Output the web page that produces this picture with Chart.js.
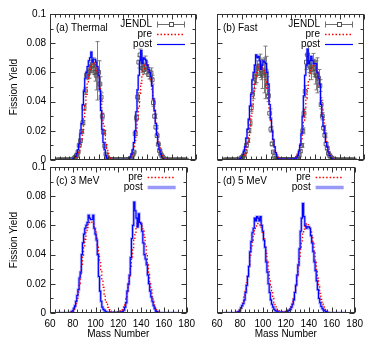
<!DOCTYPE html>
<html><head><meta charset="utf-8">
<script src="https://cdn.jsdelivr.net/npm/chart.js@4.4.0/dist/chart.umd.min.js"></script>
<style>
html,body{margin:0;padding:0;background:#fff;width:375px;height:350px;overflow:hidden}
canvas{position:absolute}
</style></head><body>
<canvas id="pa" width="200" height="170" style="left:0;top:0"></canvas>
<canvas id="pb" width="201" height="170" style="left:167px;top:0"></canvas>
<canvas id="pc" width="200" height="197" style="left:0;top:153px"></canvas>
<canvas id="pd" width="201" height="197" style="left:167px;top:153px"></canvas>
<script>
// ---------------- data ----------------
const massNumbers = [
 66,67,68,69,70,71,72,73,74,75,
 76,77,78,79,80,81,82,83,84,85,
 86,87,88,89,90,91,92,93,94,95,
 96,97,98,99,100,101,102,103,104,105,
 106,107,108,109,110,111,112,113,114,115,
 116,117,118,119,120,121,122,123,124,125,
 126,127,128,129,130,131,132,133,134,135,
 136,137,138,139,140,141,142,143,144,145,
 146,147,148,149,150,151,152,153,154,155,
 156,157,158,159,160,161,162,163,164,165,
 166,167,168,169,170,171,172];
const xTickLabels = ['60','80','100','120','140','160','180'];
const yTickLabels = ['0','0.02','0.04','0.06','0.08','0.1'];
const panelTitles = ['(a) Thermal','(b) Fast','(c) 3 MeV','(d) 5 MeV'];
const seriesNames = ['JENDL','pre','post'];
const xAxisTitle = 'Mass Number';
const yAxisTitle = 'Fission Yield';

// (a) Thermal
const jendlThermal = [
 0,0,0,0,0,0,0,0,0,0,
 0.0000,0.0001,0.0002,0.0005,0.0013,0.0020,0.0033,0.0054,0.0100,0.0132,
 0.0196,0.0256,0.0360,0.0473,0.0580,0.0590,0.0600,0.0635,0.0643,0.0650,
 0.0625,0.0600,0.0580,0.0611,0.0600,0.0520,0.0430,0.0300,0.0190,0.0096,
 0.0040,0.0015,0.0006,0.0003,0.0003,0.0002,0.0001,0.0001,0.0001,0.0001,
 0.0001,0.0001,0.0001,0.0001,0.0001,0.0001,0.0001,0.0002,0.0003,0.0003,
 0.0006,0.0013,0.0035,0.0054,0.0180,0.0289,0.0431,0.0670,0.0720,0.0654,
 0.0630,0.0619,0.0677,0.0641,0.0622,0.0585,0.0586,0.0596,0.0550,0.0393,
 0.0300,0.0225,0.0167,0.0108,0.0065,0.0042,0.0027,0.0016,0.0007,0.0003,
 0.0001,0.0001,0,0,0,0,0,0,0,0,
 0,0,0,0,0,0,0];
const jendlThermalErr = [
 0,0,0,0,0,0,0,0,0,0,
 0,0,0,0,0.0001,0.0002,0.0003,0.0004,0.0008,0.0010,
 0.0012,0.0015,0.0020,0.0025,0.0030,0.0030,0.0040,0.0035,0.0040,0.0050,
 0.0040,0.0060,0.0100,0.0200,0.0080,0.0050,0.0030,0.0020,0.0012,0.0008,
 0.0004,0.0002,0,0,0,0,0,0,0,0,
 0,0,0,0,0,0,0,0,0,0,
 0.0001,0.0002,0.0004,0.0006,0.0012,0.0020,0.0030,0.0040,0.0040,0.0035,
 0.0030,0.0030,0.0035,0.0030,0.0030,0.0030,0.0030,0.0035,0.0030,0.0025,
 0.0015,0.0012,0.0010,0.0006,0.0004,0.0002,0.0001,0,0,0,
 0,0,0,0,0,0,0,0,0,0,
 0,0,0,0,0,0,0];
const preThermal = [
 0,0,0,0,0,0,0,0,0,0,
 0.0000,0.0001,0.0002,0.0003,0.0005,0.0010,0.0020,0.0035,0.0060,0.0095,
 0.0145,0.0210,0.0290,0.0370,0.0450,0.0520,0.0580,0.0620,0.0645,0.0660,
 0.0665,0.0660,0.0640,0.0610,0.0560,0.0490,0.0410,0.0330,0.0250,0.0180,
 0.0120,0.0075,0.0045,0.0025,0.0013,0.0007,0.0004,0.0002,0.0002,0.0002,
 0.0002,0.0002,0.0002,0.0002,0.0002,0.0002,0.0002,0.0002,0.0004,0.0008,
 0.0015,0.0028,0.0050,0.0085,0.0135,0.0200,0.0280,0.0365,0.0450,0.0525,
 0.0585,0.0625,0.0650,0.0660,0.0655,0.0635,0.0600,0.0550,0.0485,0.0410,
 0.0335,0.0260,0.0190,0.0130,0.0085,0.0052,0.0030,0.0016,0.0008,0.0004,
 0.0002,0.0001,0,0,0,0,0,0,0,0,
 0,0,0,0,0,0,0];
const postThermal = [
 0,0,0,0,0,0,0,0,0,0,
 0.0000,0.0001,0.0003,0.0008,0.0015,0.0025,0.0045,0.0070,0.0110,0.0180,
 0.0250,0.0380,0.0470,0.0560,0.0600,0.0640,0.0680,0.0700,0.0740,0.0670,
 0.0690,0.0690,0.0670,0.0640,0.0580,0.0480,0.0340,0.0210,0.0120,0.0070,
 0.0030,0.0012,0.0005,0.0003,0.0002,0.0002,0.0002,0.0002,0.0002,0.0002,
 0.0002,0.0002,0.0002,0.0002,0.0002,0.0002,0.0002,0.0003,0.0005,0.0010,
 0.0020,0.0040,0.0070,0.0120,0.0200,0.0330,0.0480,0.0580,0.0680,0.0750,
 0.0660,0.0700,0.0690,0.0680,0.0650,0.0620,0.0600,0.0570,0.0510,0.0420,
 0.0340,0.0250,0.0170,0.0110,0.0070,0.0040,0.0020,0.0010,0.0005,0.0002,
 0.0001,0,0,0,0,0,0,0,0,0,
 0,0,0,0,0,0,0];

// (b) Fast
const jendlFast = [
 0,0,0,0,0,0,0,0,0,0,
 0.0000,0.0001,0.0003,0.0007,0.0015,0.0022,0.0035,0.0058,0.0100,0.0134,
 0.0202,0.0255,0.0358,0.0450,0.0530,0.0570,0.0590,0.0630,0.0640,0.0645,
 0.0620,0.0590,0.0580,0.0600,0.0610,0.0510,0.0440,0.0320,0.0210,0.0110,
 0.0055,0.0025,0.0010,0.0006,0.0004,0.0003,0.0003,0.0003,0.0003,0.0003,
 0.0003,0.0003,0.0003,0.0003,0.0003,0.0003,0.0003,0.0004,0.0004,0.0005,
 0.0010,0.0030,0.0060,0.0100,0.0200,0.0320,0.0470,0.0670,0.0720,0.0650,
 0.0640,0.0620,0.0670,0.0630,0.0600,0.0580,0.0580,0.0560,0.0510,0.0380,
 0.0300,0.0220,0.0170,0.0110,0.0080,0.0045,0.0030,0.0018,0.0010,0.0005,
 0.0003,0.0001,0,0,0,0,0,0,0,0,
 0,0,0,0,0,0,0];
const jendlFastErr = [
 0,0,0,0,0,0,0,0,0,0,
 0,0,0,0,0.0002,0.0003,0.0004,0.0006,0.0010,0.0012,
 0.0015,0.0020,0.0025,0.0030,0.0040,0.0050,0.0060,0.0050,0.0060,0.0080,
 0.0070,0.0100,0.0120,0.0180,0.0100,0.0060,0.0040,0.0030,0.0020,0.0012,
 0.0006,0.0003,0.0002,0.0001,0,0,0,0,0,0,
 0,0,0,0,0,0,0,0,0,0,
 0.0002,0.0004,0.0008,0.0012,0.0020,0.0030,0.0040,0.0050,0.0060,0.0050,
 0.0050,0.0070,0.0060,0.0060,0.0080,0.0100,0.0120,0.0060,0.0040,0.0030,
 0.0025,0.0018,0.0015,0.0010,0.0008,0.0005,0.0003,0.0002,0.0001,0,
 0,0,0,0,0,0,0,0,0,0,
 0,0,0,0,0,0,0];
const preFast = [
 0,0,0,0,0,0,0,0,0,0,
 0.0000,0.0001,0.0002,0.0004,0.0008,0.0015,0.0027,0.0045,0.0072,0.0110,
 0.0160,0.0225,0.0300,0.0380,0.0455,0.0520,0.0575,0.0615,0.0640,0.0650,
 0.0652,0.0645,0.0625,0.0595,0.0550,0.0490,0.0420,0.0345,0.0270,0.0200,
 0.0140,0.0095,0.0060,0.0035,0.0020,0.0012,0.0008,0.0006,0.0006,0.0006,
 0.0006,0.0006,0.0006,0.0006,0.0006,0.0006,0.0007,0.0010,0.0015,0.0025,
 0.0040,0.0062,0.0095,0.0140,0.0200,0.0270,0.0345,0.0420,0.0490,0.0550,
 0.0595,0.0625,0.0645,0.0652,0.0648,0.0630,0.0600,0.0555,0.0495,0.0425,
 0.0350,0.0275,0.0205,0.0145,0.0098,0.0063,0.0038,0.0022,0.0012,0.0006,
 0.0003,0.0001,0,0,0,0,0,0,0,0,
 0,0,0,0,0,0,0];
const postFast = [
 0,0,0,0,0,0,0,0,0,0,
 0.0000,0.0002,0.0005,0.0010,0.0020,0.0035,0.0060,0.0090,0.0150,0.0210,
 0.0280,0.0370,0.0450,0.0550,0.0600,0.0650,0.0720,0.0700,0.0710,0.0680,
 0.0620,0.0650,0.0680,0.0670,0.0660,0.0600,0.0520,0.0380,0.0280,0.0200,
 0.0140,0.0090,0.0050,0.0020,0.0010,0.0007,0.0007,0.0007,0.0007,0.0007,
 0.0007,0.0007,0.0007,0.0007,0.0007,0.0007,0.0007,0.0007,0.0010,0.0015,
 0.0030,0.0060,0.0100,0.0180,0.0300,0.0440,0.0580,0.0650,0.0760,0.0660,
 0.0680,0.0710,0.0680,0.0660,0.0660,0.0660,0.0600,0.0560,0.0520,0.0380,
 0.0300,0.0230,0.0180,0.0120,0.0090,0.0055,0.0030,0.0015,0.0008,0.0004,
 0.0002,0,0,0,0,0,0,0,0,0,
 0,0,0,0,0,0,0];

// (c) 3 MeV
const pre3MeV = [
 0,0,0,0,0,0,0,0,0,0,
 0.0001,0.0002,0.0004,0.0008,0.0014,0.0024,0.0040,0.0065,0.0100,0.0145,
 0.0200,0.0260,0.0325,0.0390,0.0450,0.0505,0.0550,0.0585,0.0608,0.0620,
 0.0625,0.0622,0.0610,0.0588,0.0555,0.0512,0.0460,0.0405,0.0345,0.0285,
 0.0228,0.0175,0.0128,0.0090,0.0060,0.0038,0.0023,0.0014,0.0009,0.0007,
 0.0007,0.0007,0.0007,0.0007,0.0008,0.0010,0.0014,0.0020,0.0030,0.0045,
 0.0068,0.0100,0.0142,0.0195,0.0255,0.0320,0.0385,0.0448,0.0505,0.0552,
 0.0588,0.0612,0.0624,0.0625,0.0615,0.0595,0.0562,0.0518,0.0465,0.0405,
 0.0340,0.0275,0.0213,0.0158,0.0112,0.0075,0.0048,0.0029,0.0017,0.0009,
 0.0005,0.0002,0.0001,0,0,0,0,0,0,0,
 0,0,0,0,0,0,0];
const post3MeV = [
 0,0,0,0,0,0,0,0,0,0,
 0.0000,0.0001,0.0003,0.0008,0.0015,0.0030,0.0050,0.0080,0.0120,0.0160,
 0.0240,0.0280,0.0400,0.0480,0.0540,0.0580,0.0600,0.0620,0.0670,0.0650,
 0.0640,0.0640,0.0670,0.0580,0.0540,0.0500,0.0400,0.0250,0.0150,0.0080,
 0.0040,0.0025,0.0015,0.0010,0.0006,0.0004,0.0004,0.0004,0.0004,0.0004,
 0.0004,0.0004,0.0004,0.0004,0.0004,0.0004,0.0006,0.0008,0.0012,0.0020,
 0.0040,0.0070,0.0150,0.0200,0.0260,0.0380,0.0510,0.0600,0.0760,0.0700,
 0.0650,0.0590,0.0680,0.0620,0.0610,0.0560,0.0480,0.0400,0.0370,0.0330,
 0.0260,0.0200,0.0150,0.0110,0.0080,0.0050,0.0030,0.0015,0.0010,0.0005,
 0.0003,0.0001,0,0,0,0,0,0,0,0,
 0,0,0,0,0,0,0];

// (d) 5 MeV
const pre5MeV = [
 0,0,0,0,0,0,0,0,0,0,
 0.0002,0.0004,0.0007,0.0012,0.0020,0.0032,0.0050,0.0076,0.0110,0.0155,
 0.0208,0.0265,0.0328,0.0390,0.0447,0.0498,0.0540,0.0573,0.0595,0.0607,
 0.0612,0.0610,0.0600,0.0580,0.0550,0.0510,0.0462,0.0408,0.0350,0.0292,
 0.0236,0.0185,0.0140,0.0102,0.0072,0.0049,0.0032,0.0021,0.0014,0.0011,
 0.0010,0.0010,0.0010,0.0010,0.0011,0.0014,0.0019,0.0027,0.0039,0.0055,
 0.0078,0.0108,0.0148,0.0198,0.0256,0.0318,0.0380,0.0440,0.0494,0.0540,
 0.0575,0.0598,0.0610,0.0612,0.0605,0.0588,0.0560,0.0522,0.0476,0.0420,
 0.0360,0.0298,0.0238,0.0182,0.0134,0.0094,0.0063,0.0041,0.0025,0.0015,
 0.0008,0.0004,0.0002,0.0001,0,0,0,0,0,0,
 0,0,0,0,0,0,0];
const post5MeV = [
 0,0,0,0,0,0,0,0,0,0,
 0.0001,0.0003,0.0006,0.0010,0.0020,0.0035,0.0050,0.0065,0.0090,0.0140,
 0.0190,0.0250,0.0320,0.0420,0.0490,0.0550,0.0580,0.0650,0.0630,0.0660,
 0.0650,0.0630,0.0660,0.0600,0.0560,0.0500,0.0450,0.0350,0.0280,0.0200,
 0.0140,0.0090,0.0060,0.0040,0.0025,0.0016,0.0012,0.0008,0.0006,0.0006,
 0.0006,0.0006,0.0006,0.0006,0.0006,0.0008,0.0012,0.0018,0.0025,0.0040,
 0.0060,0.0090,0.0140,0.0190,0.0260,0.0330,0.0440,0.0560,0.0650,0.0750,
 0.0660,0.0600,0.0580,0.0590,0.0590,0.0580,0.0530,0.0480,0.0420,0.0350,
 0.0290,0.0220,0.0160,0.0100,0.0070,0.0045,0.0030,0.0020,0.0015,0.0010,
 0.0005,0.0002,0.0001,0,0,0,0,0,0,0,
 0,0,0,0,0,0,0];

// ---------------- styling ----------------
const FONT = '"Liberation Sans", Arial, Helvetica, sans-serif';
Chart.defaults.font.family = FONT;
Chart.defaults.font.size = 10;
Chart.defaults.color = '#000';
const C_PRE = '#ff0000', C_POST = '#0000ff', C_POSTL = 'rgba(110,110,245,0.55)', C_JENDL = '#505050', C_ERR = '#707070';

function pts(arr){ return massNumbers.map((a,i)=>({x:a, y:arr[i]})); }

const errPlugin = {
  id:'errbars',
  beforeDatasetsDraw(chart){
    const {ctx, scales:{x,y}, chartArea:ca} = chart;
    chart.data.datasets.forEach(ds=>{
      if(!ds.errors) return;
      ctx.save();
      ctx.beginPath(); ctx.rect(ca.left, ca.top, ca.right-ca.left, ca.bottom-ca.top); ctx.clip();
      ctx.strokeStyle = C_ERR; ctx.lineWidth = 0.9;
      ds.data.forEach((p,i)=>{
        const e = ds.errors[i];
        if(!e) return;
        const px = Math.round(x.getPixelForValue(p.x))+0.5;
        const y1 = y.getPixelForValue(p.y-e), y2 = y.getPixelForValue(p.y+e);
        ctx.beginPath();
        ctx.moveTo(px,y1); ctx.lineTo(px,y2);
        ctx.moveTo(px-2,y1); ctx.lineTo(px+2,y1);
        ctx.moveTo(px-2,y2); ctx.lineTo(px+2,y2);
        ctx.stroke();
      });
      ctx.restore();
    });
  }
};

const framePlugin = {
  id:'gpFrame',
  afterDatasetsDraw(chart, args, opts){
    const {ctx, chartArea:ca, scales:{x,y}} = chart;
    ctx.save();
    ctx.strokeStyle = '#333'; ctx.lineWidth = 1;
    ctx.beginPath();
    const L = Math.round(ca.left)+0.5, R = Math.round(ca.right)-0.5, T = Math.round(ca.top)+0.5, B = Math.round(ca.bottom)-0.5;
    for(let v=x.min; v<=x.max+1e-9; v+=opts.xMinor){
      const major = Math.abs(((v-x.min)/opts.xMajor) - Math.round((v-x.min)/opts.xMajor))<1e-6;
      const len = major?5:3;
      const px = Math.round(x.getPixelForValue(v))+0.5;
      ctx.moveTo(px,B); ctx.lineTo(px,B-len);
      ctx.moveTo(px,T); ctx.lineTo(px,T+len);
    }
    for(let v=y.min; v<=y.max+1e-9; v+=opts.yMinor){
      const major = Math.abs(((v-y.min)/opts.yMajor) - Math.round((v-y.min)/opts.yMajor))<1e-6;
      const len = major?5:3;
      const py = Math.round(y.getPixelForValue(v))+0.5;
      ctx.moveTo(L,py); ctx.lineTo(L+len,py);
      ctx.moveTo(R,py); ctx.lineTo(R-len,py);
    }
    ctx.stroke();
    ctx.strokeRect(L,T,R-L,B-T);
    ctx.restore();
  }
};

const legendPlugin = {
  id:'gpLegend',
  afterDraw(chart, args, opts){
    const {ctx, chartArea:ca} = chart;
    ctx.save();
    ctx.font = '10px '+FONT;
    ctx.fillStyle = '#000';
    ctx.textBaseline = 'middle';
    ctx.textAlign = 'left';
    ctx.fillText(opts.title, ca.left+6, ca.top+14.5);
    ctx.textAlign = 'right';
    opts.items.forEach((it,i)=>{
      const yy = Math.round(ca.top + 9.5 + 10*i) + 0.5;
      ctx.fillStyle = '#000';
      ctx.fillText(it.label, ca.right-44, yy);
      const x1 = ca.right-39, x2 = ca.right-11;
      ctx.save();
      if(it.kind==='err'){
        ctx.strokeStyle = C_ERR; ctx.lineWidth = 1;
        ctx.beginPath();
        ctx.moveTo(x1,yy); ctx.lineTo(x2,yy);
        ctx.moveTo(x1+0.5,yy-3); ctx.lineTo(x1+0.5,yy+3);
        ctx.moveTo(x2-0.5,yy-3); ctx.lineTo(x2-0.5,yy+3);
        ctx.stroke();
        const cx = Math.round((x1+x2)/2)+0.5;
        ctx.fillStyle = '#fff'; ctx.fillRect(cx-2,yy-2,4,4);
        ctx.strokeStyle = C_JENDL; ctx.strokeRect(cx-2,yy-2,4,4);
      } else {
        ctx.strokeStyle = it.color; ctx.lineWidth = it.width;
        ctx.setLineDash(it.dash||[]);
        ctx.beginPath(); ctx.moveTo(x1,yy); ctx.lineTo(x2,yy); ctx.stroke();
      }
      ctx.restore();
    });
    ctx.restore();
  }
};

function makePanel(id, cfg){
  const datasets = [];
  datasets.push({label:'post', data:pts(cfg.post), borderColor:C_POST, borderWidth:1.1, stepped:'middle', pointRadius:0, fill:false});
  datasets.push({label:'pre', data:pts(cfg.pre), borderColor:C_PRE, borderWidth:1.3, borderDash:[1.5,2], stepped:'middle', pointRadius:0, fill:false});
  datasets.push({label:'post ', data:pts(cfg.post), borderColor:C_POSTL, borderWidth:cfg.jendl?2.2:2.8, stepped:'middle', pointRadius:0, fill:false});
  if(cfg.jendl){
    datasets.push({label:'JENDL', data:pts(cfg.jendl), errors:cfg.err, showLine:false, pointStyle:'rect', pointRadius:2.7,
      borderColor:C_JENDL, borderWidth:0.9, backgroundColor:'rgba(0,0,0,0)'});
  }
  const items = cfg.jendl ? [
    {label:seriesNames[0], kind:'err'},
    {label:seriesNames[1], color:C_PRE, width:1.3, dash:[1.5,2]},
    {label:seriesNames[2], color:C_POST, width:1.2}
  ] : [
    {label:seriesNames[1], color:C_PRE, width:1.3, dash:[1.5,2]},
    {label:seriesNames[2], color:'rgba(110,110,245,0.7)', width:3.5}
  ];
  new Chart(document.getElementById(id), {
    type:'line',
    data:{datasets},
    options:{
      responsive:false, animation:false, devicePixelRatio:1,
      layout:{autoPadding:false, padding:{top:14, right:4, left:0, bottom:0}},
      plugins:{legend:{display:false}, tooltip:{enabled:false},
        gpFrame:{xMinor:4, xMajor:20, yMinor:0.01, yMajor:0.02},
        gpLegend:{title:cfg.title, items}},
      scales:{
        x:{type:'linear', min:60, max:180,
          grid:{display:false, drawTicks:false}, border:{display:false},
          ticks:{display:cfg.showX, stepSize:20, padding:5, maxRotation:0, autoSkip:false,
            callback:(v,i)=>xTickLabels[i]},
          title:{display:cfg.showX, text:xAxisTitle, padding:{top:0,bottom:10}},
          afterFit:s=>{s.height = cfg.showX?37:10;}},
        y:{min:0, max:0.1,
          grid:{display:false, drawTicks:false}, border:{display:false},
          ticks:{display:cfg.showY, stepSize:0.02, padding:4, autoSkip:false,
            callback:(v,i)=>yTickLabels[i]},
          title:{display:cfg.showY, text:yAxisTitle, padding:{top:8,bottom:0}},
          afterFit:s=>{s.width = 50;}}
      }
    },
    plugins:[errPlugin, framePlugin, legendPlugin]
  });
}

makePanel('pa',{title:panelTitles[0], jendl:jendlThermal, err:jendlThermalErr, pre:preThermal, post:postThermal, showX:false, showY:true});
makePanel('pb',{title:panelTitles[1], jendl:jendlFast, err:jendlFastErr, pre:preFast, post:postFast, showX:false, showY:false});
makePanel('pc',{title:panelTitles[2], pre:pre3MeV, post:post3MeV, showX:true, showY:true});
makePanel('pd',{title:panelTitles[3], pre:pre5MeV, post:post5MeV, showX:true, showY:false});
</script>
</body></html>
